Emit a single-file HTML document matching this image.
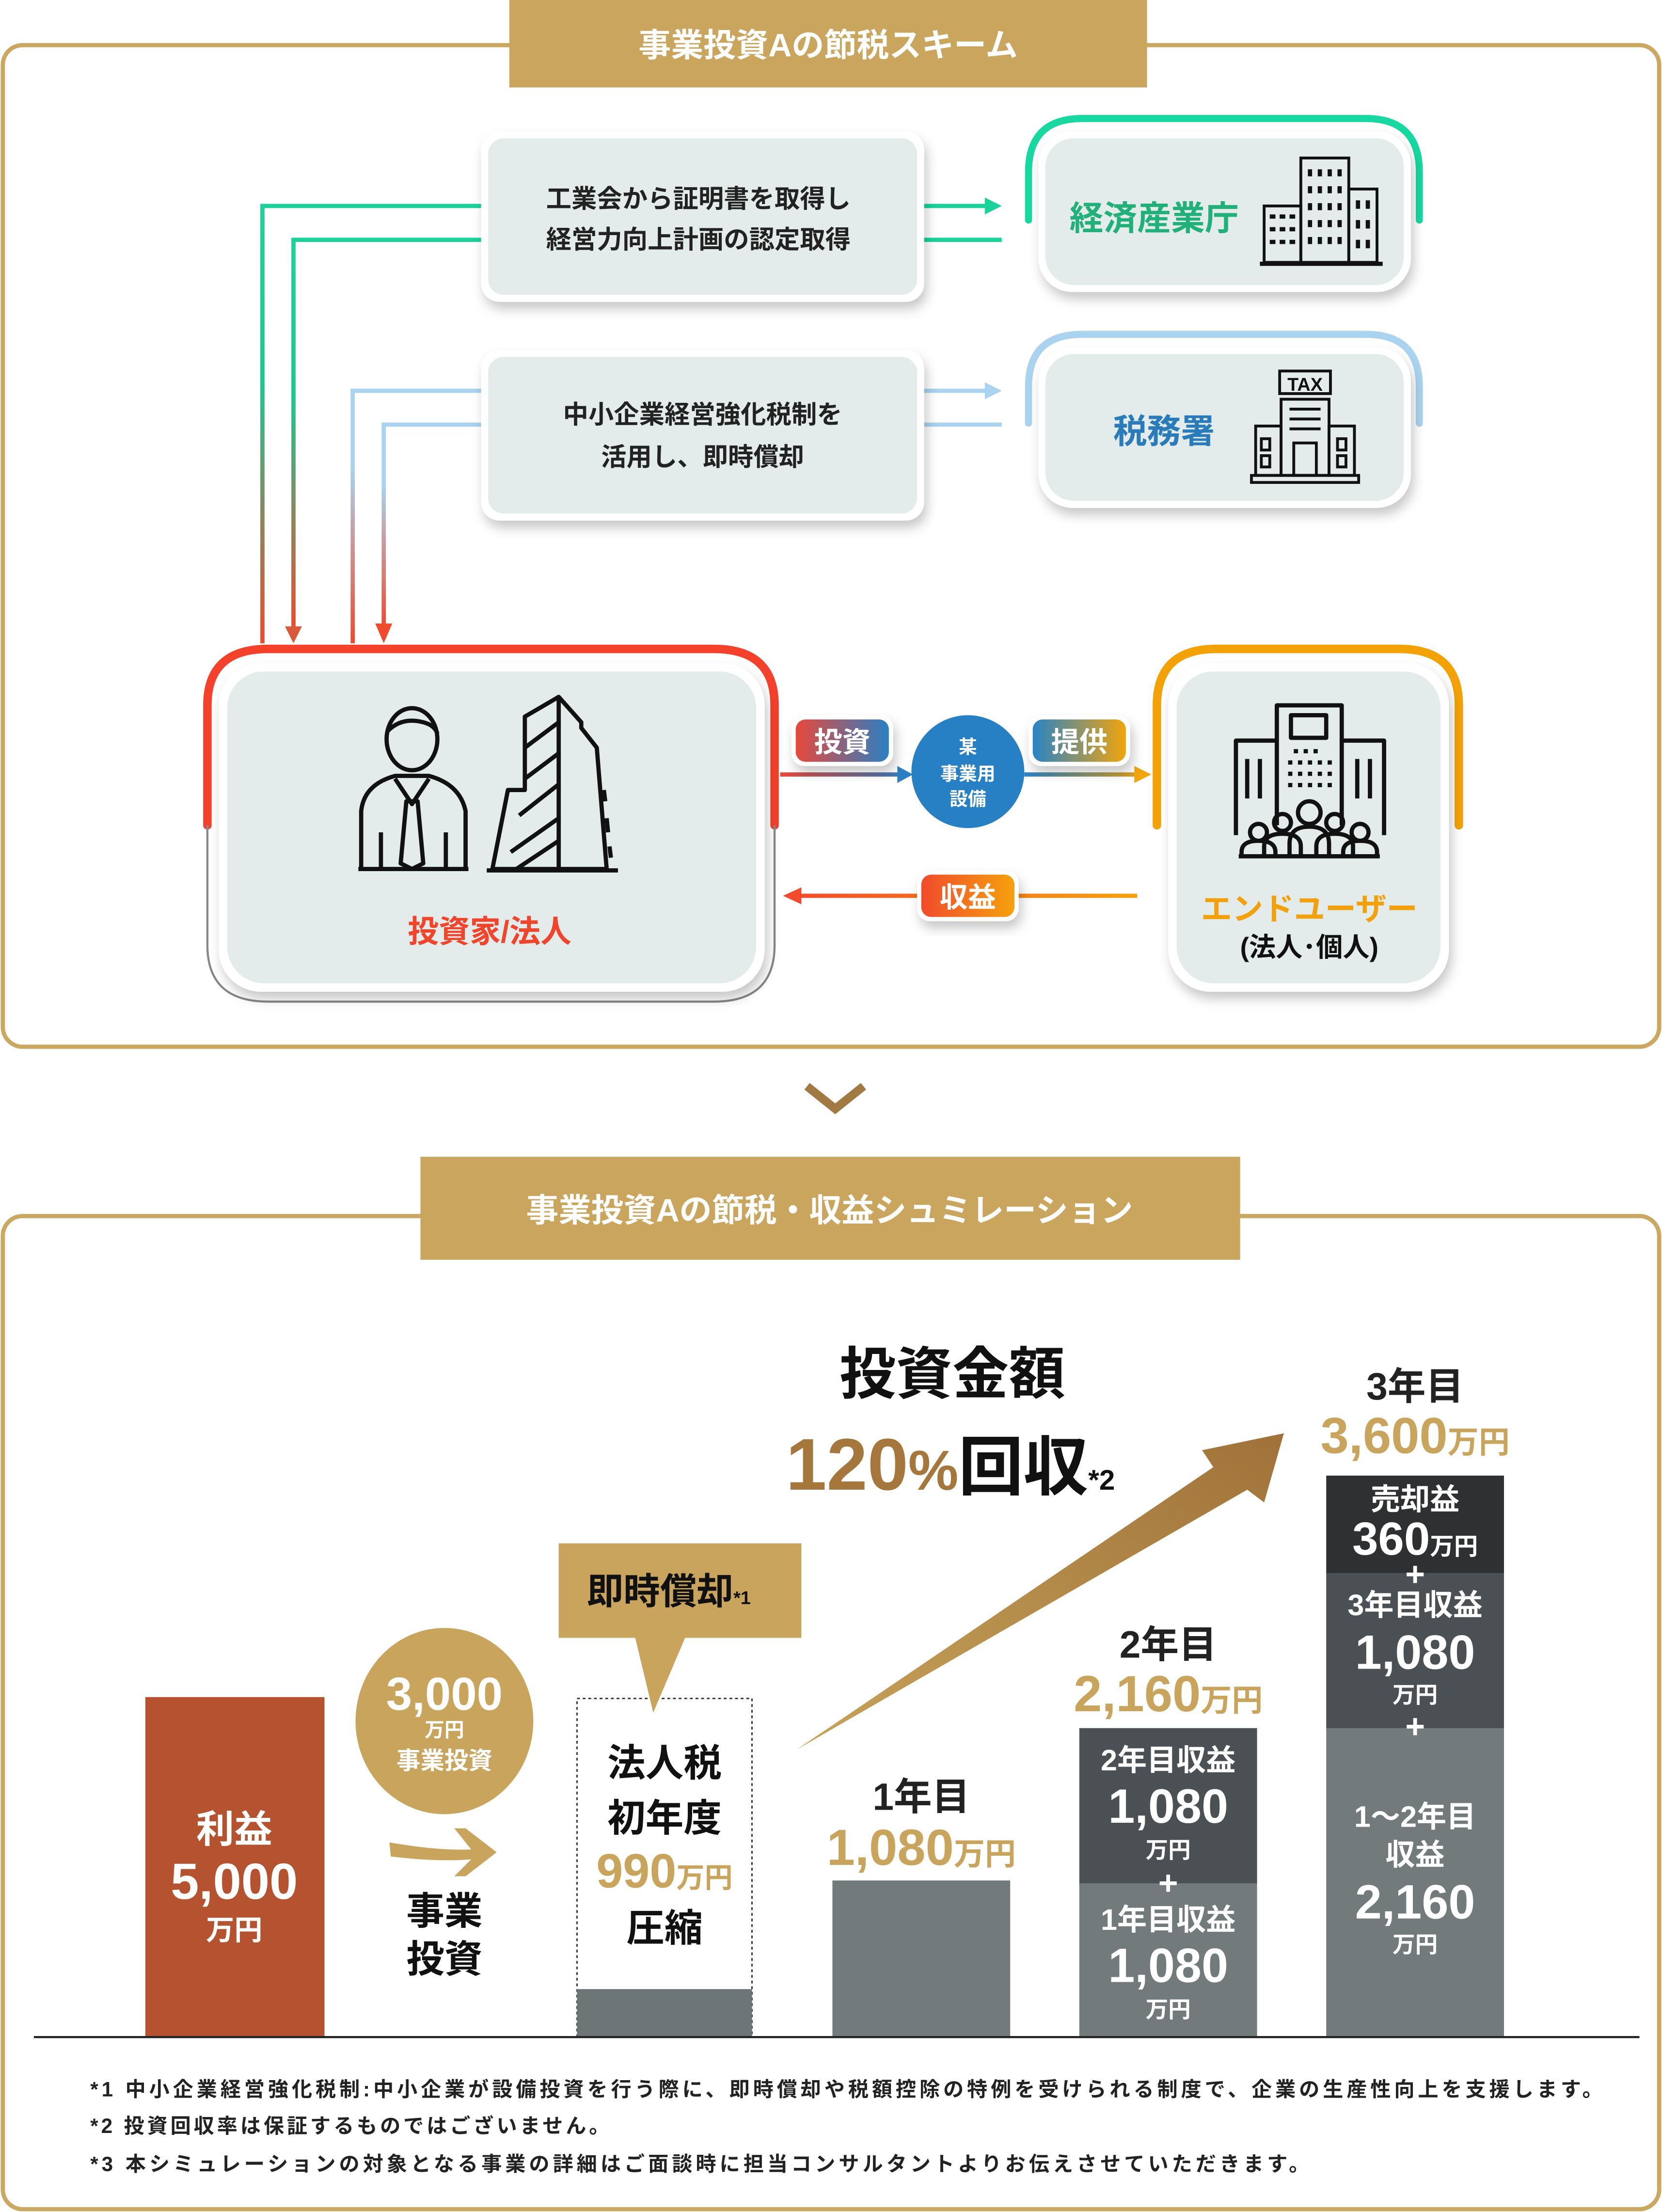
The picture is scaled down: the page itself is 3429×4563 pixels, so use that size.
<!DOCTYPE html>
<html><head><meta charset="utf-8">
<style>
html,body{margin:0;padding:0;background:#fff;}
svg{display:block;}
text{font-family:"Liberation Sans","Noto Sans CJK JP",sans-serif;font-weight:bold;}
</style></head>
<body>
<svg width="3429" height="4563" viewBox="0 0 1178 1568" preserveAspectRatio="none" xmlns="http://www.w3.org/2000/svg">
<defs>
<filter id="sh" x="-20%" y="-20%" width="140%" height="150%"><feDropShadow dx="2" dy="5" stdDeviation="4" flood-color="#000" flood-opacity="0.22"/></filter>
<linearGradient id="gL1" x1="0" y1="0" x2="0" y2="1"><stop offset="0" stop-color="#1bd39a"/><stop offset="0.4" stop-color="#1bc88f"/><stop offset="1" stop-color="#f04a2e"/></linearGradient>
<linearGradient id="gL2" x1="0" y1="0" x2="0" y2="1"><stop offset="0" stop-color="#a9d3ee"/><stop offset="0.3" stop-color="#a9d3ee"/><stop offset="1" stop-color="#f04a2e"/></linearGradient>
<linearGradient id="gInv" x1="0" y1="0" x2="1" y2="0"><stop offset="0" stop-color="#e8483a"/><stop offset="1" stop-color="#2a7fc4"/></linearGradient>
<linearGradient id="gPro" x1="0" y1="0" x2="1" y2="0"><stop offset="0" stop-color="#2a83c6"/><stop offset="1" stop-color="#f1a40c"/></linearGradient>
<linearGradient id="gRev" x1="0" y1="0" x2="1" y2="0"><stop offset="0" stop-color="#f24a2c"/><stop offset="1" stop-color="#f5a10e"/></linearGradient>
<linearGradient id="lInv" gradientUnits="userSpaceOnUse" x1="553" y1="0" x2="647" y2="0"><stop offset="0" stop-color="#e8483a"/><stop offset="1" stop-color="#2a7fc4"/></linearGradient>
<linearGradient id="lPro" gradientUnits="userSpaceOnUse" x1="726" y1="0" x2="816" y2="0"><stop offset="0" stop-color="#2a83c6"/><stop offset="1" stop-color="#f1a40c"/></linearGradient>
<linearGradient id="lRev" gradientUnits="userSpaceOnUse" x1="556" y1="0" x2="806" y2="0"><stop offset="0" stop-color="#f24a2c"/><stop offset="1" stop-color="#f5a10e"/></linearGradient>
<linearGradient id="gBig" x1="0" y1="1" x2="1" y2="0"><stop offset="0" stop-color="#c7a35a"/><stop offset="1" stop-color="#a0723a"/></linearGradient>
</defs>

<!-- TOP FRAME -->
<rect x="2" y="32" width="1174" height="710" rx="14" fill="none" stroke="#cba861" stroke-width="3"/>
<rect x="361" y="0" width="452" height="62" fill="#c9a55e"/>
<text x="587" y="40" font-size="23" fill="#fff" text-anchor="middle">事業投資Aの節税スキーム</text>

<!-- connectors -->
<polyline points="343,146 186,146 186,456" fill="none" stroke="url(#gL1)" stroke-width="3"/>
<polyline points="343,170 208,170 208,446" fill="none" stroke="url(#gL1)" stroke-width="3"/>
<polygon points="202,444 214,444 208,456" fill="#d85a3b"/>
<polyline points="343,277 250,277 250,456" fill="none" stroke="url(#gL2)" stroke-width="3"/>
<polyline points="343,301 272,301 272,444" fill="none" stroke="url(#gL2)" stroke-width="3"/>
<polygon points="266,442 278,442 272,456" fill="#f04a2e"/>
<line x1="655" y1="146" x2="700" y2="146" stroke="#1bd39a" stroke-width="3"/>
<polygon points="698,140 710,146 698,152" fill="#1bd39a"/>
<line x1="655" y1="170" x2="710" y2="170" stroke="#1bd39a" stroke-width="3"/>
<line x1="655" y1="277" x2="700" y2="277" stroke="#a9d3ee" stroke-width="3"/>
<polygon points="698,271 710,277 698,283" fill="#a9d3ee"/>
<line x1="655" y1="301" x2="710" y2="301" stroke="#a9d3ee" stroke-width="3"/>

<!-- box1 -->
<rect x="341" y="93" width="314" height="121" rx="13" fill="#fff" filter="url(#sh)"/>
<rect x="346" y="98" width="304" height="111" rx="11" fill="#e4ebeb"/>
<text x="495" y="147" font-size="18" fill="#222" text-anchor="middle">工業会から証明書を取得し</text>
<text x="495" y="176" font-size="18" fill="#222" text-anchor="middle">経営力向上計画の認定取得</text>
<!-- box2 -->
<rect x="341" y="248" width="314" height="121" rx="13" fill="#fff" filter="url(#sh)"/>
<rect x="346" y="253" width="304" height="111" rx="11" fill="#e4ebeb"/>
<text x="498" y="300" font-size="18" fill="#222" text-anchor="middle">中小企業経営強化税制を</text>
<text x="498" y="330" font-size="18" fill="#222" text-anchor="middle">活用し、即時償却</text>

<!-- METI -->
<path d="M729,156 L729,122 Q729,84 767,84 L968,84 Q1006,84 1006,122 L1006,156" fill="none" stroke="#16d8a0" stroke-width="5" stroke-linecap="round"/>
<rect x="736" y="93" width="264" height="114" rx="24" fill="#fff" filter="url(#sh)"/>
<rect x="741" y="98" width="254" height="104" rx="20" fill="#e4ebeb"/>
<text x="818" y="163" font-size="24" fill="#22b07a" text-anchor="middle">経済産業庁</text>
<g fill="none" stroke="#111" stroke-width="2">
<rect x="922" y="112" width="34" height="74"/>
<rect x="896" y="146" width="26" height="40"/>
<rect x="956" y="134" width="20" height="52"/>
<line x1="893" y1="187" x2="980" y2="187" stroke-width="3"/>
</g>
<g fill="#111">
<rect x="927" y="120" width="3" height="5"/><rect x="934" y="120" width="3" height="5"/><rect x="941" y="120" width="3" height="5"/><rect x="948" y="120" width="3" height="5"/>
<rect x="927" y="132" width="3" height="5"/><rect x="934" y="132" width="3" height="5"/><rect x="941" y="132" width="3" height="5"/><rect x="948" y="132" width="3" height="5"/>
<rect x="927" y="144" width="3" height="5"/><rect x="934" y="144" width="3" height="5"/><rect x="941" y="144" width="3" height="5"/><rect x="948" y="144" width="3" height="5"/>
<rect x="927" y="156" width="3" height="5"/><rect x="934" y="156" width="3" height="5"/><rect x="941" y="156" width="3" height="5"/><rect x="948" y="156" width="3" height="5"/>
<rect x="927" y="168" width="3" height="5"/><rect x="934" y="168" width="3" height="5"/><rect x="941" y="168" width="3" height="5"/><rect x="948" y="168" width="3" height="5"/>
<rect x="900" y="152" width="4" height="3"/><rect x="907" y="152" width="4" height="3"/><rect x="914" y="152" width="4" height="3"/>
<rect x="900" y="161" width="4" height="3"/><rect x="907" y="161" width="4" height="3"/><rect x="914" y="161" width="4" height="3"/>
<rect x="900" y="170" width="4" height="3"/><rect x="907" y="170" width="4" height="3"/><rect x="914" y="170" width="4" height="3"/>
<rect x="961" y="142" width="3" height="6"/><rect x="968" y="142" width="3" height="6"/>
<rect x="961" y="156" width="3" height="6"/><rect x="968" y="156" width="3" height="6"/>
<rect x="961" y="170" width="3" height="6"/><rect x="968" y="170" width="3" height="6"/>
</g>

<!-- TAX -->
<path d="M729,300 L729,274 Q729,237 767,237 L968,237 Q1006,237 1006,274 L1006,300" fill="none" stroke="#a9d3ee" stroke-width="5" stroke-linecap="round"/>
<rect x="736" y="246" width="264" height="114" rx="24" fill="#fff" filter="url(#sh)"/>
<rect x="741" y="251" width="254" height="104" rx="20" fill="#e4ebeb"/>
<text x="825" y="314" font-size="24" fill="#2a7bb9" text-anchor="middle">税務署</text>
<g fill="none" stroke="#111" stroke-width="2">
<rect x="907" y="263" width="36" height="16"/>
<rect x="908" y="283" width="34" height="54"/>
<rect x="890" y="302" width="18" height="35"/>
<rect x="942" y="302" width="18" height="35"/>
<rect x="887" y="337" width="76" height="5"/>
<line x1="914" y1="290" x2="936" y2="290"/><line x1="914" y1="297" x2="936" y2="297"/><line x1="914" y1="304" x2="936" y2="304"/>
<rect x="917" y="314" width="16" height="23"/>
<rect x="894" y="311" width="6" height="8"/><rect x="894" y="323" width="6" height="8"/>
<rect x="948" y="311" width="6" height="8"/><rect x="948" y="323" width="6" height="8"/>
</g>
<text x="925" y="277" font-size="13" fill="#111" text-anchor="middle" font-weight="normal">TAX</text>

<!-- investor -->
<path d="M147,585 L147,500 Q147,460 190,460 L506,460 Q549,460 549,500 L549,585" fill="none" stroke="#f4412b" stroke-width="6" stroke-linecap="round"/>
<path d="M147,585 L147,670 Q147,710 190,710 L506,710 Q549,710 549,670 L549,585" fill="none" stroke="#888" stroke-width="1.5"/>
<rect x="155" y="470" width="387" height="233" rx="30" fill="#fff" filter="url(#sh)"/>
<rect x="161" y="476" width="375" height="221" rx="26" fill="#e4ebeb"/>
<text x="347" y="668" font-size="22" fill="#f0442b" text-anchor="middle">投資家/法人</text>
<g fill="none" stroke="#111" stroke-width="3" stroke-linejoin="round">
<ellipse cx="292" cy="524" rx="18" ry="22"/>
<path d="M275,518 Q285,508 300,512 Q308,514 310,520"/>
<path d="M256,615 L256,575 Q258,556 280,550 L304,550 Q326,556 330,575 L330,615"/>
<path d="M280,552 L292,570 L304,552"/>
<path d="M288,568 L284,612 L292,616 L300,612 L296,568 Z"/>
<line x1="270" y1="590" x2="270" y2="615"/><line x1="316" y1="590" x2="316" y2="615"/>
<line x1="254" y1="616" x2="332" y2="616"/>
<path d="M349,616 L360,560 L372,560 L372,508 L396,494 L412,512 L412,516 L423,530 L430,616 Z"/>
<line x1="396" y1="494" x2="396" y2="616"/>
<line x1="372" y1="530" x2="396" y2="512"/><line x1="372" y1="552" x2="396" y2="534"/>
<line x1="368" y1="578" x2="396" y2="556"/><line x1="362" y1="604" x2="396" y2="580"/>
<line x1="366" y1="616" x2="396" y2="596"/>
<line x1="428" y1="560" x2="429" y2="568"/><line x1="430" y1="580" x2="431" y2="590"/><line x1="432" y1="600" x2="433" y2="608"/>
<line x1="345" y1="617" x2="438" y2="617"/>
</g>

<!-- end user -->
<path d="M820,585 L820,500 Q820,460 862,460 L992,460 Q1034,460 1034,500 L1034,585" fill="none" stroke="#f3a206" stroke-width="6" stroke-linecap="round"/>
<rect x="828" y="470" width="199" height="233" rx="30" fill="#fff" filter="url(#sh)"/>
<rect x="834" y="476" width="187" height="221" rx="26" fill="#e4ebeb"/>
<text x="928" y="652" font-size="22" fill="#f2a10c" text-anchor="middle">エンドユーザー</text>
<text x="928" y="678" font-size="19" fill="#111" text-anchor="middle" font-weight="normal">(法人･個人)</text>
<g fill="none" stroke="#111" stroke-width="3" stroke-linejoin="round">
<path d="M876,592 L876,525 L905,525 L905,500 L951,500 L951,525 L981,525 L981,592"/>
<rect x="915" y="507" width="25" height="16"/>
<line x1="905" y1="525" x2="905" y2="585"/><line x1="951" y1="525" x2="951" y2="585"/>
<line x1="884" y1="538" x2="884" y2="566"/><line x1="893" y1="538" x2="893" y2="566"/>
<line x1="962" y1="538" x2="962" y2="566"/><line x1="971" y1="538" x2="971" y2="566"/>
<circle cx="928" cy="576" r="8"/><circle cx="909" cy="583" r="6"/><circle cx="946" cy="583" r="6"/><circle cx="892" cy="590" r="6"/><circle cx="964" cy="590" r="6"/>
<path d="M880,607 L880,604 Q880,596 892,596 Q904,596 904,604 L904,607"/>
<path d="M896,607 L896,600 Q896,591 909,591 Q922,591 922,600 L922,607"/>
<path d="M914,607 L914,598 Q914,586 928,586 Q942,586 942,598 L942,607"/>
<path d="M933,607 L933,600 Q933,591 946,591 Q959,591 959,600 L959,607"/>
<path d="M952,607 L952,604 Q952,596 964,596 Q976,596 976,604 L976,607"/>
<line x1="878" y1="607" x2="978" y2="607"/>
</g>
<g fill="#111">
<rect x="917" y="531" width="3" height="3"/><rect x="924" y="531" width="3" height="3"/><rect x="931" y="531" width="3" height="3"/>
<rect x="913" y="539" width="3" height="3"/><rect x="920" y="539" width="3" height="3"/><rect x="927" y="539" width="3" height="3"/><rect x="934" y="539" width="3" height="3"/><rect x="941" y="539" width="3" height="3"/>
<rect x="913" y="547" width="3" height="3"/><rect x="920" y="547" width="3" height="3"/><rect x="927" y="547" width="3" height="3"/><rect x="934" y="547" width="3" height="3"/><rect x="941" y="547" width="3" height="3"/>
<rect x="913" y="555" width="3" height="3"/><rect x="920" y="555" width="3" height="3"/><rect x="927" y="555" width="3" height="3"/><rect x="934" y="555" width="3" height="3"/><rect x="941" y="555" width="3" height="3"/>
</g>

<!-- middle flow -->
<line x1="553" y1="549" x2="638" y2="549" stroke="url(#lInv)" stroke-width="3"/>
<polygon points="636,543 647,549 636,555" fill="#2a7fc4"/>
<line x1="726" y1="549" x2="806" y2="549" stroke="url(#lPro)" stroke-width="3"/>
<polygon points="804,543 816,549 804,555" fill="#f1a40c"/>
<line x1="566" y1="635" x2="806" y2="635" stroke="url(#lRev)" stroke-width="3"/>
<polygon points="568,629 555,635 568,641" fill="#f24a2c"/>
<rect x="561" y="507" width="72" height="36" rx="9" fill="#fff" filter="url(#sh)"/>
<rect x="564" y="510" width="66" height="30" rx="7" fill="url(#gInv)"/>
<text x="597" y="533" font-size="20" fill="#fff" text-anchor="middle">投資</text>
<rect x="729" y="507" width="72" height="36" rx="9" fill="#fff" filter="url(#sh)"/>
<rect x="732" y="510" width="66" height="30" rx="7" fill="url(#gPro)"/>
<text x="765" y="533" font-size="20" fill="#fff" text-anchor="middle">提供</text>
<rect x="650" y="617" width="72" height="36" rx="9" fill="#fff" filter="url(#sh)"/>
<rect x="653" y="620" width="66" height="30" rx="7" fill="url(#gRev)"/>
<text x="686" y="643" font-size="20" fill="#fff" text-anchor="middle">収益</text>
<ellipse cx="686" cy="547" rx="40" ry="40" fill="#2780c3"/>
<text x="686" y="534" font-size="13" fill="#fff" text-anchor="middle">某</text>
<text x="686" y="553" font-size="13" fill="#fff" text-anchor="middle">事業用</text>
<text x="686" y="571" font-size="13" fill="#fff" text-anchor="middle">設備</text>

<!-- chevron -->
<polyline points="572,770 592,786 612,770" fill="none" stroke="#a07a42" stroke-width="6"/>

<!-- BOTTOM FRAME -->
<rect x="2" y="862" width="1174" height="704" rx="14" fill="none" stroke="#cba861" stroke-width="3"/>
<rect x="298" y="820" width="581" height="73" fill="#c9a55e"/>
<text x="588" y="866" font-size="23" fill="#fff" text-anchor="middle">事業投資Aの節税・収益シュミレーション</text>

<!-- big arrow -->
<polygon points="565,1240 860,1040 852,1028 910,1016 896,1065 884,1056" fill="url(#gBig)"/>

<text x="675" y="988" font-size="40" fill="#111" text-anchor="middle">投資金額</text>
<text x="557" y="1056" font-size="52" fill="#a5773c">120<tspan font-size="40">%</tspan><tspan fill="#111" font-size="46">回収</tspan><tspan fill="#111" font-size="20">*2</tspan></text>

<!-- bars -->
<rect x="103" y="1203" width="127" height="241" fill="#b5522f"/>
<text x="166" y="1306" font-size="27" fill="#fff" text-anchor="middle">利益</text>
<text x="166" y="1346" font-size="36" fill="#fff" text-anchor="middle">5,000</text>
<text x="166" y="1375" font-size="20" fill="#fff" text-anchor="middle">万円</text>

<ellipse cx="315" cy="1220" rx="63" ry="66" fill="#c9a45c"/>
<text x="315" y="1212" font-size="33" fill="#fff" text-anchor="middle">3,000</text>
<text x="315" y="1231" font-size="14" fill="#fff" text-anchor="middle">万円</text>
<text x="315" y="1254" font-size="17" fill="#fff" text-anchor="middle">事業投資</text>
<path d="M276,1306 Q310,1312 334,1311 L322,1296 L330,1296 L352,1313 L330,1330 L322,1330 L334,1318 Q310,1320 277,1316 Z" fill="#c9a45c"/>
<text x="315" y="1364" font-size="27" fill="#111" text-anchor="middle">事業</text>
<text x="315" y="1398" font-size="27" fill="#111" text-anchor="middle">投資</text>

<rect x="409" y="1204" width="124" height="240" fill="#fff" stroke="#333" stroke-width="1" stroke-dasharray="2,2"/>
<rect x="409" y="1410" width="124" height="34" fill="#6d7577"/>
<text x="471" y="1259" font-size="27" fill="#111" text-anchor="middle">法人税</text>
<text x="471" y="1298" font-size="27" fill="#111" text-anchor="middle">初年度</text>
<text x="471" y="1338" font-size="34" fill="#c9a45c" text-anchor="middle">990<tspan font-size="20">万円</tspan></text>
<text x="471" y="1376" font-size="27" fill="#111" text-anchor="middle">圧縮</text>

<rect x="396" y="1094" width="172" height="67" fill="#c9a45c"/>
<polygon points="450,1160 486,1160 463,1214" fill="#c9a45c"/>
<text x="474" y="1137" font-size="26" fill="#111" text-anchor="middle">即時償却<tspan font-size="13">*1</tspan></text>

<rect x="590" y="1333" width="126" height="111" fill="#737a7c"/>
<text x="653" y="1283" font-size="27" fill="#222" text-anchor="middle">1年目</text>
<text x="653" y="1322" font-size="36" fill="#c9a45c" text-anchor="middle">1,080<tspan font-size="22">万円</tspan></text>

<rect x="765" y="1225" width="126" height="111" fill="#4a5054"/>
<rect x="765" y="1335" width="126" height="109" fill="#737a7c"/>
<text x="828" y="1175" font-size="27" fill="#222" text-anchor="middle">2年目</text>
<text x="828" y="1213" font-size="36" fill="#c9a45c" text-anchor="middle">2,160<tspan font-size="22">万円</tspan></text>
<text x="828" y="1255" font-size="21" fill="#fff" text-anchor="middle">2年目収益</text>
<text x="828" y="1292" font-size="34" fill="#fff" text-anchor="middle">1,080</text>
<text x="828" y="1317" font-size="16" fill="#fff" text-anchor="middle">万円</text>
<text x="828" y="1343" font-size="24" fill="#fff" text-anchor="middle">+</text>
<text x="828" y="1368" font-size="21" fill="#fff" text-anchor="middle">1年目収益</text>
<text x="828" y="1405" font-size="34" fill="#fff" text-anchor="middle">1,080</text>
<text x="828" y="1430" font-size="16" fill="#fff" text-anchor="middle">万円</text>

<rect x="940" y="1046" width="126" height="70" fill="#2e3032"/>
<rect x="940" y="1115" width="126" height="111" fill="#4a5054"/>
<rect x="940" y="1225" width="126" height="219" fill="#737a7c"/>
<text x="1003" y="992" font-size="27" fill="#222" text-anchor="middle">3年目</text>
<text x="1003" y="1030" font-size="36" fill="#c9a45c" text-anchor="middle">3,600<tspan font-size="22">万円</tspan></text>
<text x="1003" y="1070" font-size="21" fill="#fff" text-anchor="middle">売却益</text>
<text x="1003" y="1102" font-size="33" fill="#fff" text-anchor="middle">360<tspan font-size="17">万円</tspan></text>
<text x="1003" y="1124" font-size="24" fill="#fff" text-anchor="middle">+</text>
<text x="1003" y="1145" font-size="21" fill="#fff" text-anchor="middle">3年目収益</text>
<text x="1003" y="1183" font-size="34" fill="#fff" text-anchor="middle">1,080</text>
<text x="1003" y="1207" font-size="16" fill="#fff" text-anchor="middle">万円</text>
<text x="1003" y="1232" font-size="24" fill="#fff" text-anchor="middle">+</text>
<text x="1003" y="1295" font-size="21" fill="#fff" text-anchor="middle">1〜2年目</text>
<text x="1003" y="1322" font-size="21" fill="#fff" text-anchor="middle">収益</text>
<text x="1003" y="1360" font-size="34" fill="#fff" text-anchor="middle">2,160</text>
<text x="1003" y="1384" font-size="16" fill="#fff" text-anchor="middle">万円</text>

<line x1="24" y1="1444" x2="1162" y2="1444" stroke="#222" stroke-width="1.5"/>

<text x="64" y="1486" font-size="14.5" fill="#222" textLength="1072" lengthAdjust="spacing">*1 中小企業経営強化税制:中小企業が設備投資を行う際に、即時償却や税額控除の特例を受けられる制度で、企業の生産性向上を支援します。</text>
<text x="64" y="1512" font-size="14.5" fill="#222" textLength="368" lengthAdjust="spacing">*2 投資回収率は保証するものではございません。</text>
<text x="64" y="1539" font-size="14.5" fill="#222" textLength="864" lengthAdjust="spacing">*3 本シミュレーションの対象となる事業の詳細はご面談時に担当コンサルタントよりお伝えさせていただきます。</text>
</svg>
</body></html>
